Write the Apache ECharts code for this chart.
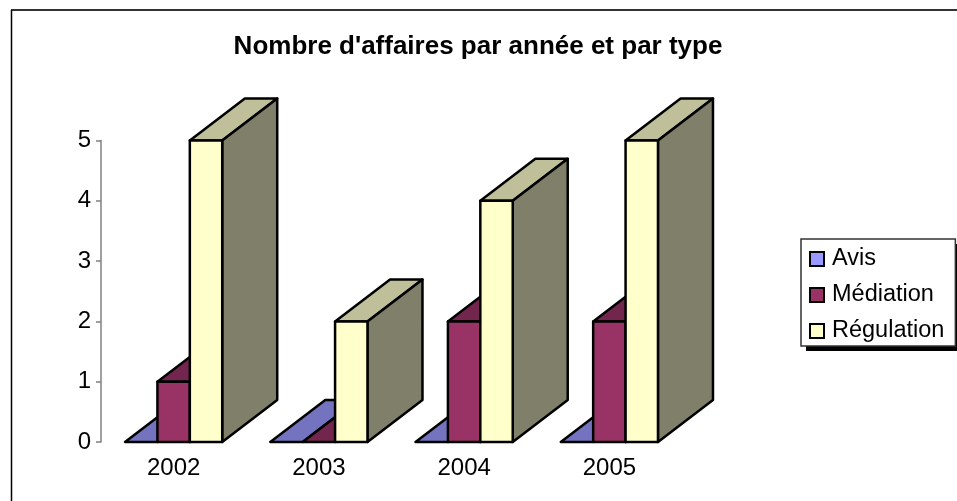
<!doctype html>
<html>
<head>
  <meta charset="utf-8">
  <title>Nombre d'affaires par année et par type</title>
  <script src="https://cdn.jsdelivr.net/npm/echarts@6/dist/echarts.min.js"></script>
  <style>
    html, body { margin: 0; padding: 0; background: #fff; }
    #chart { width: 957px; height: 501px; }
  </style>
</head>
<body>
<div id="chart"></div>
<script>
var years = ['2002', '2003', '2004', '2005'];
var avis = [0, 0, 0, 0];
var mediation = [1, 0, 2, 2];
var regulation = [5, 2, 4, 5];

var chart = echarts.init(document.getElementById('chart'));

// one 3D box: front, top and right side faces
function box3d(slot, colors) {
  return function (params, api) {
    var base = api.coord([api.value(0), 0]);
    var top = api.coord([api.value(0), api.value(1)]);
    var w = 32.4, dx = 55, dy = -42;
    var x0 = base[0] + (slot - 1.5) * w;
    var x1 = x0 + w;
    var line = { stroke: '#000', lineWidth: 2.5, lineJoin: 'round' };
    function face(points, fill) {
      return {
        type: 'polygon',
        shape: { points: points },
        style: Object.assign({ fill: fill }, line)
      };
    }
    var kids = [
      face([[x0, top[1]], [x1, top[1]], [x1 + dx, top[1] + dy], [x0 + dx, top[1] + dy]], colors.top)
    ];
    if (top[1] < base[1]) {
      kids.push(face([[x1, base[1]], [x1 + dx, base[1] + dy], [x1 + dx, top[1] + dy], [x1, top[1]]], colors.side));
      kids.push(face([[x0, base[1]], [x1, base[1]], [x1, top[1]], [x0, top[1]]], colors.front));
    }
    return { type: 'group', children: kids };
  };
}

function makeSeries(name, values, slot, colors) {
  return {
    name: name,
    type: 'custom',
    coordinateSystem: 'cartesian2d',
    encode: { x: 0, y: 1 },
    z: 2 + slot,
    itemStyle: { color: colors.front, borderColor: '#000', borderWidth: 2 },
    data: values.map(function (v, i) { return [i, v]; }),
    renderItem: box3d(slot, colors)
  };
}

chart.setOption({
  animation: false,
  backgroundColor: '#fff',
  textStyle: { fontFamily: '"Liberation Sans", Arial, sans-serif' },
  title: {
    text: "Nombre d'affaires par année et par type",
    left: 473,
    top: 29,
    textAlign: 'center',
    textStyle: { fontSize: 26, fontWeight: 'bold', color: '#000', fontFamily: '"Liberation Sans", Arial, sans-serif' }
  },
  graphic: [
    { type: 'line', shape: { x1: 11, y1: 10, x2: 957, y2: 10 }, style: { stroke: '#333', lineWidth: 2 } },
    { type: 'line', shape: { x1: 11.5, y1: 10, x2: 11.5, y2: 501 }, style: { stroke: '#000', lineWidth: 1.5 } },
    // legend drop shadow, a plain rect because the legend's own shadow also shadows its border
    { type: 'rect', z: 1, shape: { x: 806, y: 244, width: 154, height: 107 }, style: { fill: '#000' } }
  ],
  grid: { left: 101, top: 140.5, width: 581, height: 301.5 },
  legend: {
    orient: 'vertical',
    left: 801,
    top: 239,
    padding: [8, 11, 3, 8],
    itemGap: 12,
    itemWidth: 14,
    itemHeight: 14,
    selectedMode: false,
    backgroundColor: '#fff',
    borderColor: '#333',
    borderWidth: 1.5,
    textStyle: { fontSize: 23.5, color: '#000', padding: [0, 0, 0, 3] },
    data: [{ name: 'Avis', icon: 'rect' }, { name: 'Médiation', icon: 'rect' }, { name: 'Régulation', icon: 'rect' }]
  },
  xAxis: {
    type: 'category',
    data: years,
    axisLine: { show: false },
    axisTick: { show: false },
    axisLabel: { fontSize: 24, color: '#000', margin: 14 }
  },
  yAxis: {
    type: 'value',
    min: 0,
    max: 5,
    interval: 1,
    splitLine: { show: false },
    axisLine: { show: true, lineStyle: { color: '#808080', width: 1.5 } },
    axisTick: { show: true, length: 5, lineStyle: { color: '#808080', width: 1.5 } },
    axisLabel: { fontSize: 24, color: '#000', margin: 10 }
  },
  series: [
    makeSeries('Avis', avis, 0, { front: '#9999FF', top: '#7373BF', side: '#5C5C99' }),
    makeSeries('Médiation', mediation, 1, { front: '#993366', top: '#73264D', side: '#5C1F3D' }),
    makeSeries('Régulation', regulation, 2, { front: '#FFFFCC', top: '#BFBF99', side: '#80806A' })
  ]
});
</script>
</body>
</html>
